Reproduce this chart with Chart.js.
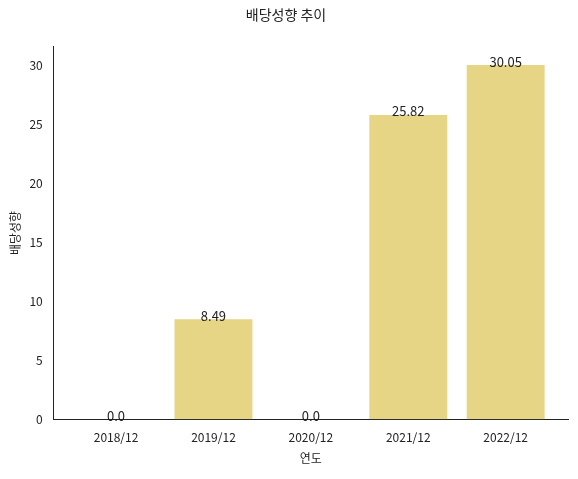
<!DOCTYPE html>
<html><head><meta charset="utf-8">
<script src="https://cdn.jsdelivr.net/npm/chart.js"></script>
<style>body{margin:0;background:#fff}#w{width:578px;height:479px}</style>
</head><body><div id="w"><canvas id="c"></canvas></div>
<script>
const categories = ["2018/12","2019/12","2020/12","2021/12","2022/12"];
const values = [0.0, 8.49, 0.0, 25.82, 30.05];
const labels = ["0.0","8.49","0.0","25.82","30.05"];
const F = "'Noto Sans CJK KR','Noto Sans',sans-serif";
const lbl = {id:'lbl',afterDatasetsDraw(ch){const ctx=ch.ctx;const m=ch.getDatasetMeta(0);ctx.save();ctx.font="13px "+F;ctx.fillStyle="#222";ctx.textAlign="center";ctx.textBaseline="bottom";m.data.forEach((b,i)=>ctx.fillText(labels[i],b.x,b.y+3));ctx.restore();}};
new Chart(document.getElementById('c'),{type:'bar',
data:{datasets:[{data:values.map((v,i)=>({x:i,y:v})),backgroundColor:'#e5d585',barPercentage:0.8,categoryPercentage:1}]},
options:{responsive:true,maintainAspectRatio:false,animation:false,
layout:{padding:{left:4,right:10,top:0,bottom:9}},
plugins:{legend:{display:false},tooltip:{enabled:false},title:{display:true,text:'배당성향 추이',color:'#222',font:{family:F,size:14,weight:'normal'},padding:{top:6,bottom:24}}},
scales:{x:{type:'linear',min:-0.64,max:4.64,offset:false,grid:{display:false},border:{color:'#222'},
 afterBuildTicks:s=>{s.ticks=categories.map((c,i)=>({value:i}));},
 ticks:{color:'#222',font:{family:F,size:12},callback:v=>categories[v]},title:{display:true,text:'연도',color:'#222',font:{family:F,size:12}}},
y:{min:0,max:31.6,grid:{display:false},border:{color:'#222'},
 afterBuildTicks:s=>{s.ticks=[0,5,10,15,20,25,30].map(v=>({value:v}));},
 ticks:{color:'#222',font:{family:F,size:12}},title:{display:true,text:'배당성향',color:'#222',font:{family:F,size:12}}}}},
plugins:[lbl]});
</script></body></html>
